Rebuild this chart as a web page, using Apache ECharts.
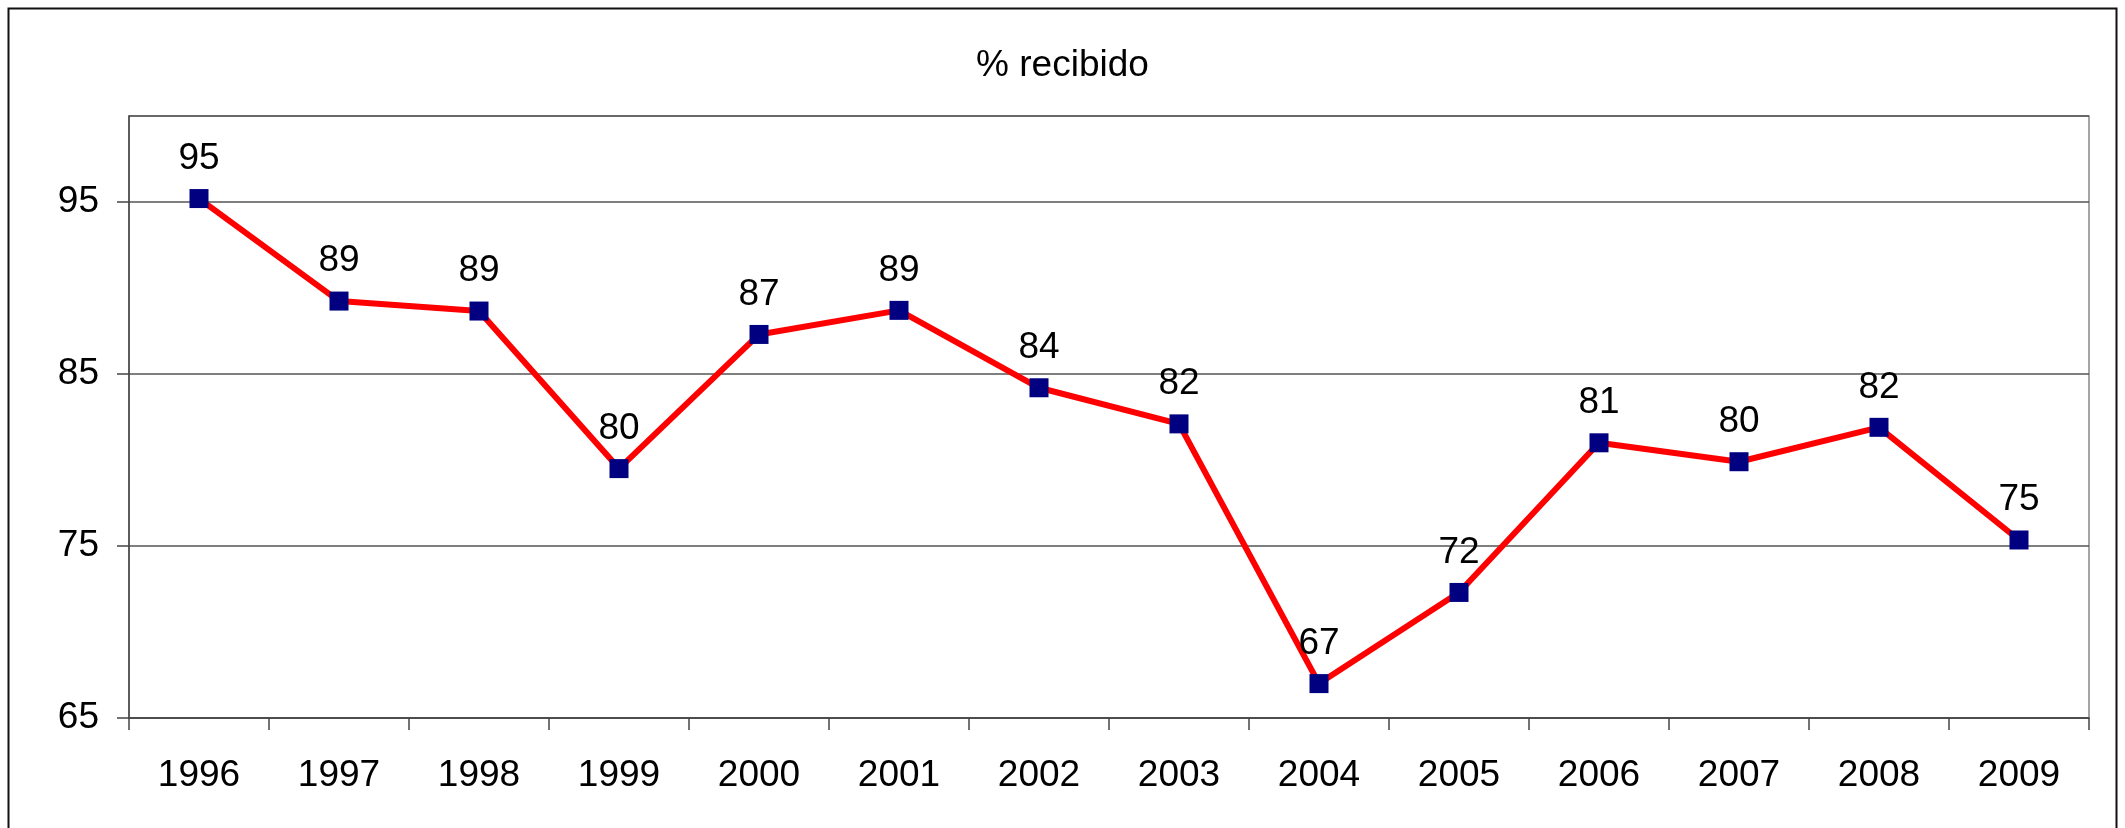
<!DOCTYPE html>
<html>
<head>
<meta charset="utf-8">
<script src="https://cdn.jsdelivr.net/npm/echarts@6/dist/echarts.min.js"></script>
<style>
html,body{margin:0;padding:0;background:#fff;}
#chart{width:2125px;height:828px;}
</style>
</head>
<body>
<div id="chart"></div>
<script>
const titleText = '% recibido';
const years = ['1996','1997','1998','1999','2000','2001','2002','2003','2004','2005','2006','2007','2008','2009'];
const recibido = [95.2, 89.24, 88.66, 79.5, 87.3, 88.7, 84.2, 82.1, 67.0, 72.3, 81.0, 79.9, 81.9, 75.35];
const yMin = 65, yMax = 100, yStep = 10;

const chart = echarts.init(document.getElementById('chart'), null, {renderer: 'canvas'});
const font = '"Liberation Sans", Arial, sans-serif';
chart.setOption({
  backgroundColor: '#ffffff',
  animation: false,
  title: {
    text: titleText, left: 'center', top: 42,
    textStyle: {fontFamily: font, fontSize: 37, fontWeight: 'normal', color: '#000'}
  },
  graphic: [{
    type: 'rect', left: 6, top: 6, silent: true,
    shape: {width: 2108, height: 840},
    style: {fill: 'none', stroke: '#111', lineWidth: 2}
  }],
  grid: {
    left: 129, top: 116, right: 36, bottom: 110,
    show: true, borderColor: '#888', borderWidth: 1.5, backgroundColor: 'transparent'
  },
  xAxis: {
    type: 'category', data: years, boundaryGap: true,
    axisLine: {lineStyle: {color: '#444', width: 1.5}},
    axisTick: {show: true, length: 12, inside: false, lineStyle: {color: '#444', width: 1.5}},
    axisLabel: {fontFamily: font, fontSize: 37, color: '#000', margin: 39}
  },
  yAxis: {
    type: 'value', min: yMin, max: yMax, interval: yStep,
    axisLine: {show: true, lineStyle: {color: '#444', width: 1.5}},
    axisTick: {show: true, length: 12, lineStyle: {color: '#444', width: 1.5}},
    axisLabel: {fontFamily: font, fontSize: 37, color: '#000', margin: 30, showMaxLabel: false},
    splitLine: {show: true, lineStyle: {color: '#555', width: 1.5}}
  },
  series: [{
    type: 'line', data: recibido,
    symbol: 'rect', symbolSize: 19,
    itemStyle: {color: '#000080'},
    lineStyle: {color: '#ff0000', width: 6},
    label: {
      show: true, position: 'top', distance: 12,
      fontFamily: font, fontSize: 37, color: '#000',
      formatter: p => Math.round(p.value)
    }
  }]
});
</script>
</body>
</html>
